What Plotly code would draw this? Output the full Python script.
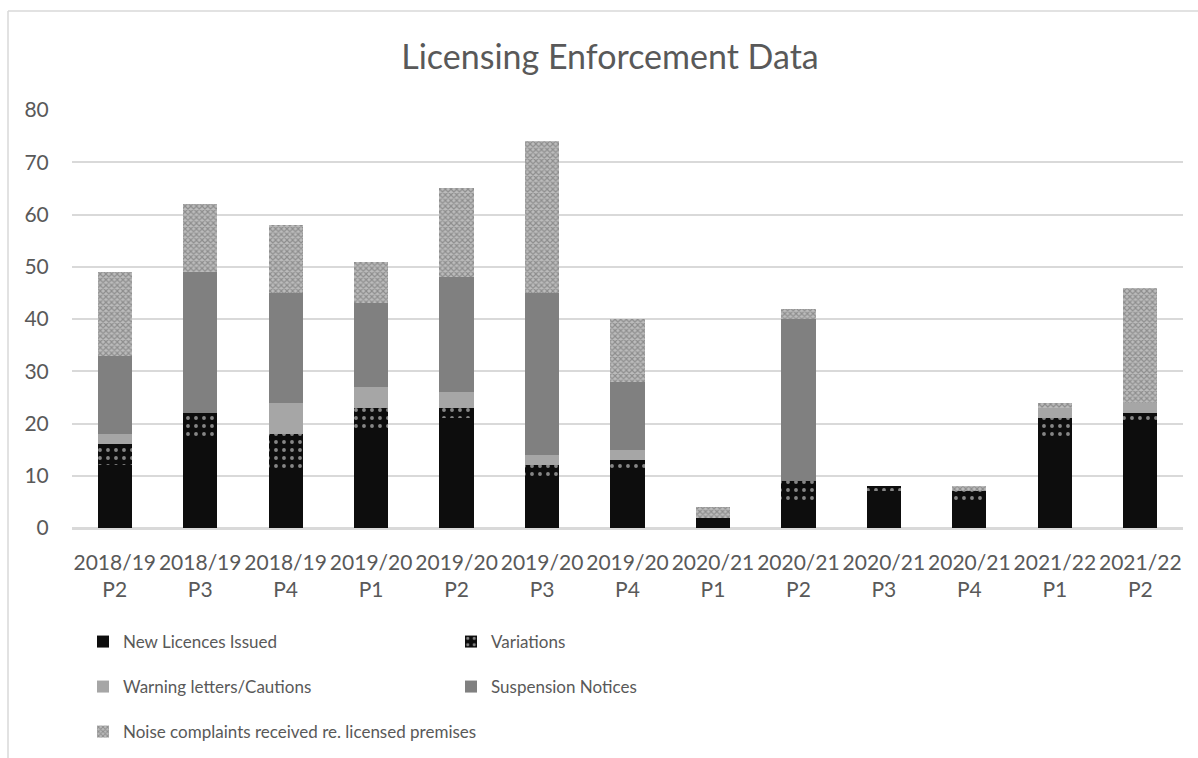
import plotly.graph_objects as go

categories = ["2018/19<br>P2", "2018/19<br>P3", "2018/19<br>P4", "2019/20<br>P1", "2019/20<br>P2",
              "2019/20<br>P3", "2019/20<br>P4", "2020/21<br>P1", "2020/21<br>P2", "2020/21<br>P3",
              "2020/21<br>P4", "2021/22<br>P1", "2021/22<br>P2"]
new_licences = [12, 17, 11, 19, 21, 10, 11, 2, 5, 7, 5, 17, 20]
variations = [4, 5, 7, 4, 2, 2, 2, 0, 4, 1, 2, 4, 2]
warnings = [2, 0, 6, 4, 3, 2, 2, 0, 0, 0, 0, 2, 2]
suspensions = [15, 27, 21, 16, 22, 31, 13, 0, 31, 0, 0, 0, 0]
noise = [16, 13, 13, 8, 17, 29, 12, 2, 2, 0, 1, 1, 22]
y_ticks = [0, 10, 20, 30, 40, 50, 60, 70, 80]

FONT = "Lato"
TXT = "#595959"

fig = go.Figure()
fig.add_bar(x=categories, y=new_licences, name="New Licences Issued",
            marker=dict(color="#0d0d0d", line=dict(width=0)), legend="legend")
fig.add_bar(x=categories, y=variations, name="Variations",
            marker=dict(color="#0d0d0d", line=dict(width=0),
                        pattern=dict(shape=".", bgcolor="#0d0d0d", fgcolor="white",
                                     size=8, solidity=0.18, fillmode="overlay")),
            legend="legend")
fig.add_bar(x=categories, y=warnings, name="Warning letters/Cautions",
            marker=dict(color="#a6a6a6", line=dict(width=0)), legend="legend2")
fig.add_bar(x=categories, y=suspensions, name="Suspension Notices",
            marker=dict(color="#808080", line=dict(width=0)), legend="legend2")
fig.add_bar(x=categories, y=noise, name="Noise complaints received re. licensed premises",
            marker=dict(color="#9c9c9c", line=dict(width=0),
                        pattern=dict(shape="x", bgcolor="#bcbcbc", fgcolor="#5e5e5e",
                                     size=4, solidity=0.5, fillmode="overlay")),
            legend="legend3")

# Figure is a bit taller than the window; the bottom strip is cropped by the page.
W, H = 1198, 790
PLOT_TOP, PLOT_BOTTOM = 110, 528
L, R, T, B = 72, 15, PLOT_TOP, H - PLOT_BOTTOM
pw, ph = W - L - R, H - T - B

def px_x(p):
    return (p - L) / pw

def px_y(p):
    return (PLOT_BOTTOM - p) / ph

leg_font = dict(family=FONT, size=17, color=TXT)
leg_common = dict(orientation="h", xanchor="left", yanchor="middle", font=leg_font,
                  entrywidthmode="pixels", traceorder="normal",
                  bgcolor="rgba(0,0,0,0)")

fig.update_layout(
    width=W, height=H,
    margin=dict(l=L, r=R, t=T, b=B),
    barmode="stack", bargap=0.6,
    plot_bgcolor="white", paper_bgcolor="white",
    font=dict(family=FONT, color=TXT),
    title=dict(text="Licensing Enforcement Data", x=px_x(610), xref="paper", xanchor="center",
               y=1 - 57 / H, yref="container", yanchor="middle",
               font=dict(family=FONT, size=34, color=TXT)),
    xaxis=dict(tickfont=dict(family=FONT, size=21, color=TXT), showgrid=False,
               ticks="outside", ticklen=15, tickcolor="rgba(0,0,0,0)",
               showline=True, linecolor="#d9d9d9", linewidth=1.5),
    yaxis=dict(range=[0, 80], tickvals=y_ticks, tickfont=dict(family=FONT, size=21, color=TXT),
               showgrid=True, gridcolor="#d9d9d9", gridwidth=1.5,
               zeroline=True, zerolinecolor="#d9d9d9", zerolinewidth=1.5,
               ticks="outside", ticklen=18, tickcolor="rgba(0,0,0,0)", showline=False),
    legend=dict(x=px_x(83), y=px_y(642), entrywidth=323, **leg_common),
    legend2=dict(x=px_x(83), y=px_y(687), entrywidth=323, **leg_common),
    legend3=dict(x=px_x(83), y=px_y(732), entrywidth=700, **leg_common),
    shapes=[
        dict(type="line", xref="paper", yref="paper", x0=px_x(8), x1=px_x(8),
             y0=px_y(11), y1=px_y(H + 5), line=dict(color="#d9d9d9", width=1.5)),
        dict(type="line", xref="paper", yref="paper", x0=px_x(8), x1=px_x(W + 5),
             y0=px_y(11), y1=px_y(11), line=dict(color="#d9d9d9", width=1.5)),
    ],
)

fig.write_html("out.html", config={"displayModeBar": False},
               post_script="document.body.style.margin='0';document.body.style.overflow='hidden';")
